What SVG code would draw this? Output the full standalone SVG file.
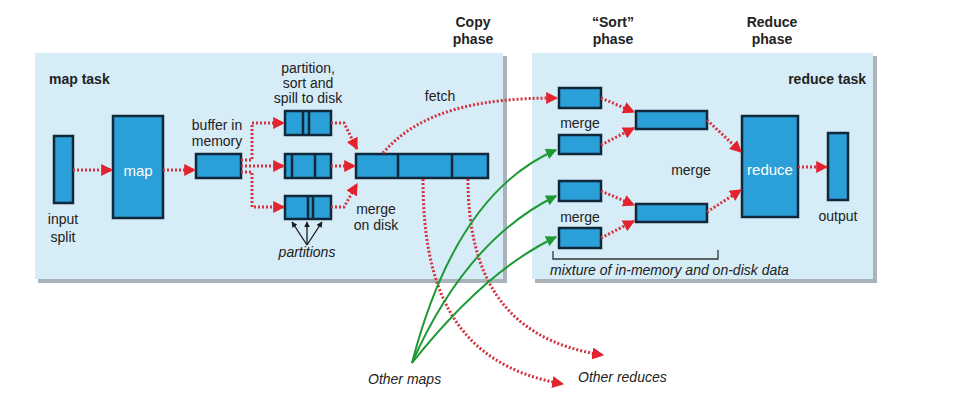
<svg xmlns="http://www.w3.org/2000/svg" width="953" height="402" viewBox="0 0 953 402">
<style>
.panel{fill:#d6ecf7}
.shadow{fill:#a9b3b9}
.box{fill:#2a9fd8;stroke:#10283a;stroke-width:2.5}
.div{stroke:#10283a;stroke-width:2.5}
.red{fill:none;stroke:#d4323f;stroke-width:3;stroke-dasharray:2 2}
.green{fill:none;stroke:#1e9a35;stroke-width:2}
.blk{fill:none;stroke:#1a1a1a;stroke-width:1.3}
text{font-family:"Liberation Sans",Arial,sans-serif;fill:#222;font-size:14px}
.b{font-weight:bold}
.i{font-style:italic}
.c{text-anchor:middle}
.w{fill:#ffffff;font-size:15px}
</style>
<defs>
<marker id="ar" viewBox="0 0 10 10" refX="9" refY="5" markerWidth="12" markerHeight="12" markerUnits="userSpaceOnUse" orient="auto"><path d="M0,0 L10,5 L0,10 z" fill="#e2222d"/></marker>
<marker id="ag" viewBox="0 0 10 10" refX="9" refY="5" markerWidth="11" markerHeight="11" markerUnits="userSpaceOnUse" orient="auto"><path d="M0,0 L10,5 L0,10 z" fill="#1e9a35"/></marker>
<marker id="ab" viewBox="0 0 10 10" refX="9" refY="5" markerWidth="6" markerHeight="6" markerUnits="userSpaceOnUse" orient="auto"><path d="M0,0 L10,5 L0,10 z" fill="#1a1a1a"/></marker>
</defs>
<rect width="953" height="402" fill="#ffffff"/>

<g id="phase-labels">
<text class="b c" x="473" y="27" font-size="13">Copy</text>
<text class="b c" x="473" y="44" font-size="13">phase</text>
<text class="b c" x="613" y="27" font-size="13">“Sort”</text>
<text class="b c" x="613" y="44" font-size="13">phase</text>
<text class="b c" x="772" y="27" font-size="13">Reduce</text>
<text class="b c" x="772" y="44" font-size="13">phase</text>
</g>

<g id="map-task">
<rect class="shadow" x="38" y="56" width="469" height="227"/>
<rect class="panel" x="35" y="53" width="468" height="226"/>
<text class="b" x="49" y="84" font-size="16">map task</text>
</g>
<g id="reduce-task">
<rect class="shadow" x="535" y="56" width="342" height="227"/>
<rect class="panel" x="532" y="53" width="341" height="226"/>
<text class="b" x="866" y="84" font-size="16" text-anchor="end">reduce task</text>
</g>

<g id="input-split">
<rect class="box" x="54" y="136" width="19" height="67"/>
<text class="c" x="63" y="224" font-size="15">input</text>
<text class="c" x="63" y="242" font-size="15">split</text>
</g>
<g id="map">
<rect class="box" x="113" y="116" width="50" height="102"/>
<text class="c w" x="138" y="176">map</text>
</g>
<g id="buffer">
<rect class="box" x="196" y="154" width="45" height="24"/>
<text class="c" x="217" y="130" font-size="13">buffer in</text>
<text class="c" x="217" y="146" font-size="13">memory</text>
</g>
<g id="spills">
<text class="c" x="308" y="73" font-size="12">partition,</text>
<text class="c" x="308" y="88" font-size="12">sort and</text>
<text class="c" x="308" y="103" font-size="12">spill to disk</text>
<rect class="box" x="285" y="111" width="46" height="24"/>
<line class="div" x1="303" y1="111" x2="303" y2="135"/>
<line class="div" x1="309" y1="111" x2="309" y2="135"/>
<rect class="box" x="285" y="154" width="46" height="24"/>
<line class="div" x1="292" y1="154" x2="292" y2="178"/>
<line class="div" x1="315" y1="154" x2="315" y2="178"/>
<rect class="box" x="285" y="196" width="46" height="23"/>
<line class="div" x1="308" y1="196" x2="308" y2="219"/>
<line class="div" x1="313" y1="196" x2="313" y2="219"/>
</g>
<g id="partitions-label">
<path class="blk" d="M307,245 L292,222" marker-end="url(#ab)"/>
<path class="blk" d="M307,245 L307,222" marker-end="url(#ab)"/>
<path class="blk" d="M307,245 L322,222" marker-end="url(#ab)"/>
<text class="c i" x="307" y="257">partitions</text>
</g>
<g id="merged-file">
<rect class="box" x="356" y="154" width="132" height="24"/>
<line class="div" x1="398" y1="154" x2="398" y2="178"/>
<line class="div" x1="452" y1="154" x2="452" y2="178"/>
<text class="c" x="376" y="214" font-size="13">merge</text>
<text class="c" x="376" y="230" font-size="13">on disk</text>
<text class="c" x="440" y="101">fetch</text>
</g>

<g id="copies">
<rect class="box" x="559" y="88" width="42" height="20"/>
<rect class="box" x="559" y="135" width="42" height="19"/>
<rect class="box" x="559" y="181" width="42" height="20"/>
<rect class="box" x="559" y="228" width="42" height="20"/>
<text class="c" x="580" y="128">merge</text>
<text class="c" x="580" y="222">merge</text>
</g>
<g id="merged">
<rect class="box" x="636" y="111" width="71" height="18"/>
<rect class="box" x="636" y="204" width="71" height="18"/>
<text class="c" x="691" y="175">merge</text>
</g>
<g id="reduce">
<rect class="box" x="742" y="116" width="56" height="101"/>
<text class="c w" x="770" y="175">reduce</text>
</g>
<g id="output">
<rect class="box" x="828" y="133" width="20" height="67"/>
<text class="c" x="838" y="221" font-size="16">output</text>
</g>
<g id="mixture">
<path d="M553,251 V259 H718 V250" fill="none" stroke="#333" stroke-width="1.3"/>
<text class="i" x="550" y="275">mixture of in-memory and on-disk data</text>
</g>
<g id="others">
<text class="i" x="368" y="384">Other maps</text>
<text class="i" x="578" y="382" font-size="13">Other reduces</text>
</g>

<g id="connectors">
<path class="red" d="M73,170 H112" marker-end="url(#ar)"/>
<path class="red" d="M163,170 H195" marker-end="url(#ar)"/>
<path class="red" d="M241,160 H252 V123 H284" marker-end="url(#ar)"/>
<path class="red" d="M241,166 H284" marker-end="url(#ar)"/>
<path class="red" d="M241,172 H252 V207 H284" marker-end="url(#ar)"/>
<path class="red" d="M331,123 H344 L357,149" marker-end="url(#ar)"/>
<path class="red" d="M331,166 H355" marker-end="url(#ar)"/>
<path class="red" d="M331,207 H344 L357,184" marker-end="url(#ar)"/>
<path class="red" d="M383,153 C420,110 480,98 557,98" marker-end="url(#ar)"/>
<path class="red" d="M423,179 C423,290 455,365 563,384" marker-end="url(#ar)"/>
<path class="red" d="M468,179 C468,270 500,340 603,355" marker-end="url(#ar)"/>
<path class="red" d="M601,98 L634,112" marker-end="url(#ar)"/>
<path class="red" d="M601,145 L634,128" marker-end="url(#ar)"/>
<path class="red" d="M601,191 L634,205" marker-end="url(#ar)"/>
<path class="red" d="M601,238 L634,221" marker-end="url(#ar)"/>
<path class="red" d="M707,120 L741,152" marker-end="url(#ar)"/>
<path class="red" d="M707,212 L741,190" marker-end="url(#ar)"/>
<path class="red" d="M798,167 H827" marker-end="url(#ar)"/>
<path class="green" d="M412,363 Q456,193 556,150" marker-end="url(#ag)"/>
<path class="green" d="M412,363 Q466,240 556,196" marker-end="url(#ag)"/>
<path class="green" d="M412,363 Q486,270 556,237" marker-end="url(#ag)"/>
</g>
</svg>
